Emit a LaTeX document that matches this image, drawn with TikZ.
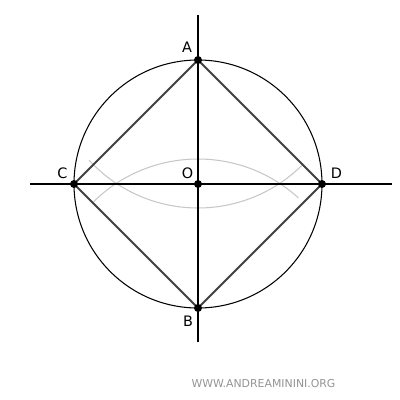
\documentclass[tikz,border=0pt]{standalone}
\usepackage{fontspec}
\setmainfont{DejaVu Sans}
\begin{document}
\begin{tikzpicture}[x=0.02cm,y=-0.02cm,
  lbl/.style={inner sep=0pt,anchor=center,font=\fontsize{8.2}{10}\selectfont},
  pt/.style={circle,fill=black,inner sep=0pt,minimum size=8pt*0.567},
  axis/.style={draw=black,line width=0.6pt},
  sq/.style={draw=black!75,line width=1.2pt},
  arcg/.style={draw=black!22,line width=0.6pt}]
\useasboundingbox (0,0) rectangle (400,400);
\coordinate (O) at (198,184);
\coordinate (A) at (198,60);
\coordinate (B) at (198,308);
\coordinate (C) at (74,184);
\coordinate (D) at (322,184);
\coordinate (xl) at (30,184);
\coordinate (xr) at (392,184);
\coordinate (yt) at (198,15);
\coordinate (yb) at (198,342);
% construction arcs
\draw[arcg] ([shift={(-47.7:149)}]B) arc[start angle=-47.7,end angle=-134.5,radius=149];
\draw[arcg] ([shift={(-222.6:148)}]A) arc[start angle=-222.6,end angle=-314.5,radius=148];
% axes
\draw[axis] (xl) -- (xr);
\draw[axis] (yt) -- (yb);
% circle
\draw[line width=0.6pt] (O) circle[radius=124];
% square
\draw[sq,line join=round] (A) -- (D) -- (B) -- (C) -- cycle;
% points
\node[pt] (pA) at (A) {};
\node[pt] (pB) at (B) {};
\node[pt] (pC) at (C) {};
\node[pt] (pD) at (D) {};
\node[pt] (pO) at (O) {};
% labels
\node[lbl] (lA) at (187,47.5) {A};
\node[lbl] (lB) at (188,321) {B};
\node[lbl] (lC) at (62.5,173) {C};
\node[lbl] (lO) at (187.5,173) {O};
\node[lbl] (lD) at (336.5,173) {D};
\node[inner sep=0pt,anchor=center,text=black!42,font=\fontsize{6.2}{8}\selectfont] (wm) at (263.5,384) {WWW.ANDREAMININI.ORG};
\end{tikzpicture}
\end{document}
